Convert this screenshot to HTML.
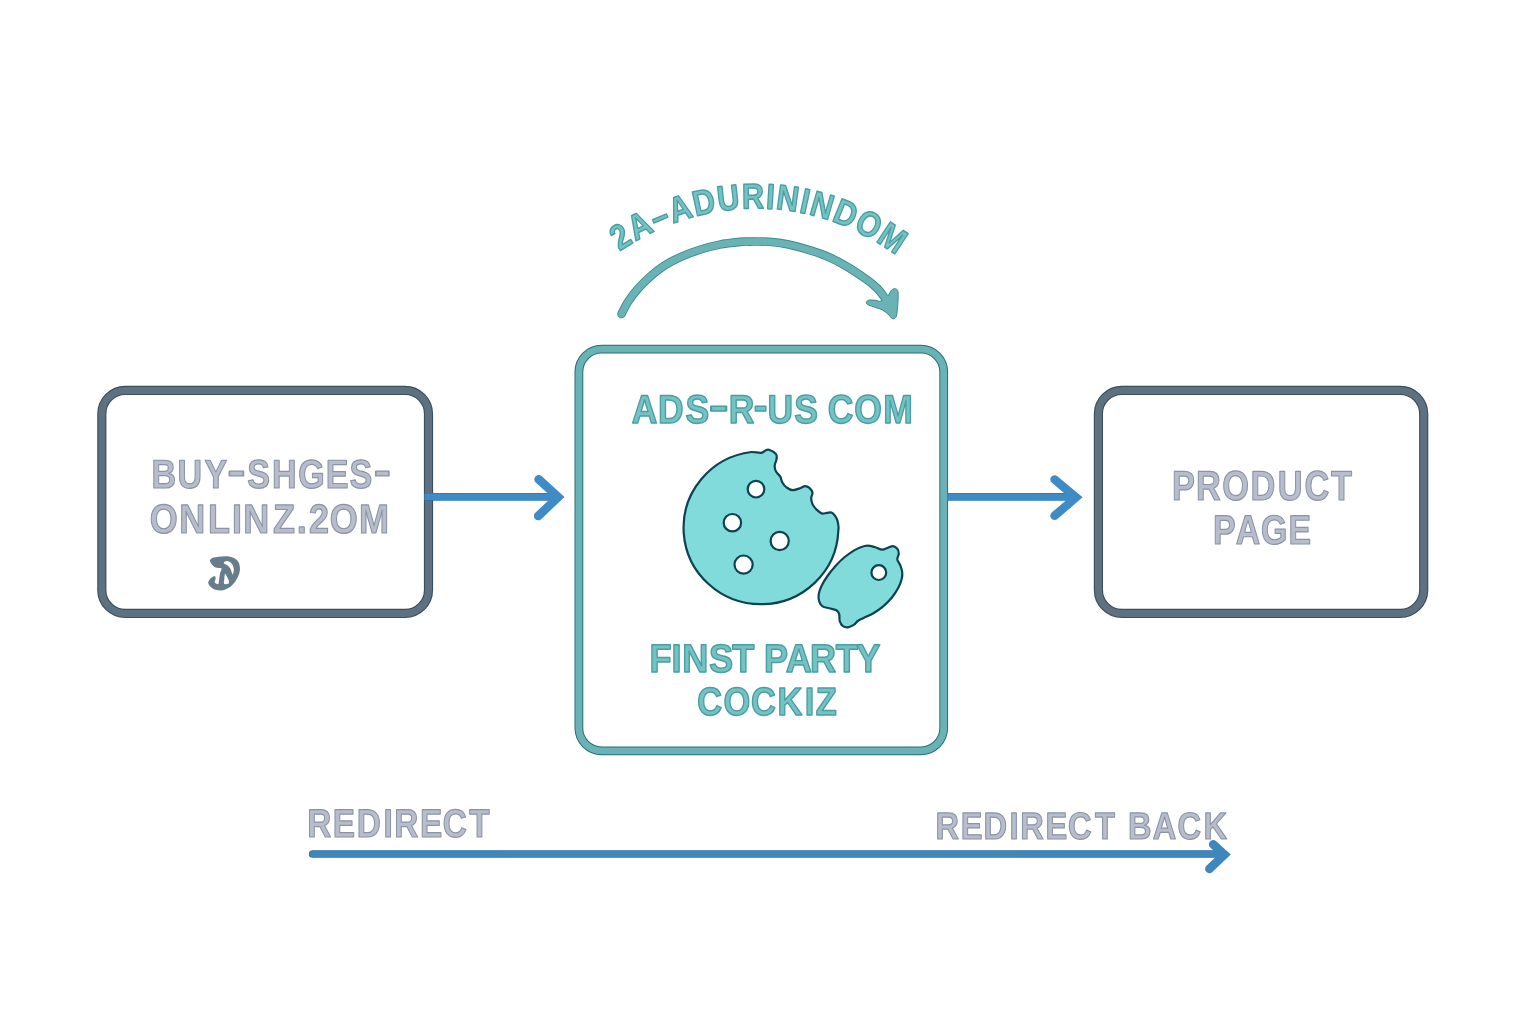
<!DOCTYPE html>
<html lang="en">
<head>
<meta charset="utf-8">
<title>First-party cookie redirect flow</title>
<style>
  html, body { margin: 0; padding: 0; background: #ffffff; }
  body { width: 1536px; height: 1024px; overflow: hidden; }
  svg { display: block; will-change: transform; }
  text {
    font-family: "Liberation Sans", sans-serif;
    font-weight: 700;
    stroke-linejoin: round;
    text-rendering: geometricPrecision;
  }
  .grey { fill: #b8bccb; stroke: #8994a8; stroke-width: 1.2px; }
  .teal { fill: #76c1c2; stroke: #48a0a6; stroke-width: 1.5px; }
</style>
</head>
<body>
<svg width="1536" height="1024" viewBox="0 0 1536 1024">
  <rect width="1536" height="1024" fill="#ffffff"/>

  <!-- left box -->
  <g id="box-left" fill="none">
    <rect x="101.8" y="390.4" width="326.7" height="223" rx="23.5" ry="23.5" stroke="#3a4e5e" stroke-width="9.2"/>
    <rect x="101.8" y="390.4" width="326.7" height="223" rx="23.5" ry="23.5" stroke="#5d7180" stroke-width="7"/>
  </g>

  <!-- right box -->
  <g id="box-right" fill="none">
    <rect x="1098.4" y="390.4" width="325.3" height="223" rx="23.5" ry="23.5" stroke="#3a4e5e" stroke-width="9.2"/>
    <rect x="1098.4" y="390.4" width="325.3" height="223" rx="23.5" ry="23.5" stroke="#5d7180" stroke-width="7"/>
  </g>

  <!-- middle box -->
  <g id="box-mid" fill="none">
    <rect x="578.9" y="349.2" width="364.8" height="401.6" rx="22.8" ry="22.8" stroke="#276f78" stroke-width="8.8"/>
    <rect x="578.9" y="349.2" width="364.8" height="401.6" rx="22.8" ry="22.8" stroke="#6ab2b3" stroke-width="6.8"/>
  </g>

  <!-- arrows between boxes -->
  <g id="arrows" fill="none" stroke-linecap="round" stroke-linejoin="miter">
    <path d="M424.6,496.9 H556" stroke="#2f74ad" stroke-width="7.8" stroke-linecap="butt"/>
    <path d="M424.6,496.9 H556" stroke="#3f8bc5" stroke-width="6.2" stroke-linecap="butt"/>
    <path d="M538.6,479.3 L558.2,497.1 L538.2,516" stroke="#3f8bc5" stroke-width="8.6"/>
    <path d="M947.4,496.9 H1074" stroke="#2f74ad" stroke-width="7.8" stroke-linecap="butt"/>
    <path d="M947.4,496.9 H1074" stroke="#3f8bc5" stroke-width="6.2" stroke-linecap="butt"/>
    <path d="M1054.6,479.5 L1076,497.4 L1054.6,515.8" stroke="#3f8bc5" stroke-width="8.6"/>
  </g>

  <!-- curved arrow -->
  <g id="curved-arrow" stroke-linecap="round" stroke-linejoin="round">
    <path d="M621.5,314.0 C622.6,311.9 625.5,305.5 628.3,301.3 C631.1,297.1 634.5,292.7 638.1,288.6 C641.7,284.5 645.4,280.7 649.8,276.9 C654.2,273.1 659.1,269.0 664.4,265.6 C669.7,262.2 675.5,259.3 681.5,256.6 C687.5,253.9 694.2,251.5 700.6,249.5 C707.0,247.5 713.0,245.9 719.6,244.6 C726.2,243.3 735.0,242.4 740.0,241.9 C745.0,241.4 744.6,241.6 749.5,241.6 C754.4,241.6 762.6,241.3 769.1,241.8 C775.6,242.3 782.3,243.2 788.6,244.5 C794.9,245.8 800.9,247.5 807.1,249.4 C813.3,251.3 819.4,253.2 825.7,255.8 C832.0,258.4 837.8,261.2 844.7,265.2 C851.6,269.2 861.4,275.8 866.9,279.7 C872.4,283.6 874.7,285.7 877.6,288.6 C880.5,291.6 882.8,295.1 884.5,297.5 C886.2,299.9 887.4,302.1 888.0,303.0" fill="none" stroke="#3b8a90" stroke-width="8.6"/>
    <path d="M888.5,295.2 C890.1,293.5 890.0,291.9 890.9,290.8 C891.8,289.7 893.0,288.9 894.0,288.7 C895.0,288.5 896.4,289.0 897.1,289.7 C897.8,290.4 898.0,290.9 898.1,292.8 C898.2,294.7 898.1,298.3 898.0,301.0 C897.9,303.7 897.7,306.7 897.4,309.2 C897.1,311.7 897.0,314.5 896.4,316.1 C895.8,317.7 894.9,318.4 894.0,318.7 C893.1,319.0 892.3,318.6 891.3,317.8 C890.3,317.0 889.4,315.3 887.9,314.0 C886.4,312.7 884.2,310.9 882.4,309.9 C880.6,308.9 878.8,308.6 876.9,307.9 C875.0,307.2 872.4,306.4 870.8,305.8 C869.2,305.2 868.1,304.9 867.4,304.4 C866.6,303.9 866.3,303.3 866.3,302.7 C866.3,302.1 866.8,301.1 867.4,300.7 C868.0,300.2 868.7,300.1 870.1,300.0 C871.5,299.9 873.8,300.1 875.6,300.3 C877.4,300.5 878.9,301.9 881.0,301.0 C883.1,300.1 886.9,296.9 888.5,295.2Z" fill="#6ab3b4" stroke="#3b8a90" stroke-width="1"/>
    <path d="M621.5,314.0 C622.6,311.9 625.5,305.5 628.3,301.3 C631.1,297.1 634.5,292.7 638.1,288.6 C641.7,284.5 645.4,280.7 649.8,276.9 C654.2,273.1 659.1,269.0 664.4,265.6 C669.7,262.2 675.5,259.3 681.5,256.6 C687.5,253.9 694.2,251.5 700.6,249.5 C707.0,247.5 713.0,245.9 719.6,244.6 C726.2,243.3 735.0,242.4 740.0,241.9 C745.0,241.4 744.6,241.6 749.5,241.6 C754.4,241.6 762.6,241.3 769.1,241.8 C775.6,242.3 782.3,243.2 788.6,244.5 C794.9,245.8 800.9,247.5 807.1,249.4 C813.3,251.3 819.4,253.2 825.7,255.8 C832.0,258.4 837.8,261.2 844.7,265.2 C851.6,269.2 861.4,275.8 866.9,279.7 C872.4,283.6 874.7,285.7 877.6,288.6 C880.5,291.6 882.8,295.1 884.5,297.5 C886.2,299.9 887.4,302.1 888.0,303.0" fill="none" stroke="#6ab3b4" stroke-width="6.8"/>
  </g>

  <!-- curved label -->
  <defs>
    <path id="arc" d="M618,252.5 C699.4,196.6 807.7,188.8 900,258"/>
  </defs>
  <text class="teal" font-size="35.4" letter-spacing="1.6"><textPath href="#arc" startOffset="2" textLength="297" lengthAdjust="spacingAndGlyphs">2A–ADURININDOM</textPath></text>

  <!-- text labels (per-glyph x positions keep real text aligned to the reference) -->
  <text class="grey" transform="translate(0,488.1) scale(0.844,1)" font-size="40.36" x="179.48 210.45 242.33 269.26 292.85 322.40 353.27 385.86 414.12 442.88" y="0">BUY<tspan textLength="21.74" lengthAdjust="spacingAndGlyphs" dy="-3.9">-</tspan><tspan dy="3.9">S</tspan>HGES<tspan textLength="20.34" lengthAdjust="spacingAndGlyphs" dy="-3.9">-</tspan></text>
  <text class="grey" transform="translate(0,532.8) scale(0.881,1)" font-size="40.88" x="169.93 203.41 236.21 263.45 276.23 310.03 336.79 350.83 374.42 407.43" y="0">ONLINZ.2OM</text>
  <text class="teal" transform="translate(0,423.15) scale(0.886,1)" font-size="40.07" x="712.99 742.71 773.58 800.00 822.53 850.82 866.31 896.55 923.28 934.19 964.18 997.02" y="0">ADS<tspan textLength="22.41" lengthAdjust="spacingAndGlyphs" dy="-3.9">-</tspan><tspan dy="3.9">R</tspan><tspan textLength="15.45" lengthAdjust="spacingAndGlyphs" dy="-3.9">-</tspan><tspan dy="3.9">U</tspan>S COM</text>
  <text class="teal" transform="translate(0,672.0) scale(0.914,1)" font-size="39.56" x="710.51 734.82 746.45 775.85 801.20 825.37 835.94 859.60 886.22 914.28 936.79" y="0">FINST PARTY</text>
  <text class="teal" transform="translate(0,715.3) scale(0.876,1)" font-size="39.27" x="795.88 825.84 857.36 887.66 918.57 931.31" y="0">COCKIZ</text>
  <text class="grey" transform="translate(0,499.8) scale(0.826,1)" font-size="41.61" x="1418.80 1447.99 1479.66 1513.82 1547.04 1579.42 1611.37" y="0">PRODUCT</text>
  <text class="grey" transform="translate(0,544.0) scale(0.823,1)" font-size="41.17" x="1473.75 1501.39 1532.23 1565.71" y="0">PAGE</text>
  <text class="grey" transform="translate(0,837.1) scale(0.84,1)" font-size="39.71" x="365.90 396.09 424.81 456.63 469.38 499.89 527.00 558.58" y="0">REDIRECT</text>
  <text class="grey" transform="translate(0,838.9) scale(0.859,1)" font-size="37.96" x="1088.96 1118.59 1145.08 1175.23 1187.68 1217.14 1243.25 1274.83 1298.02 1313.24 1342.08 1370.67 1401.03" y="0">REDIRECT BACK</text>

  <!-- small mark under the left label -->
  <path id="glyph" fill="#677d8c" fill-rule="evenodd" d="M210.3,559.7 C210.7,559.1 211.3,558.3 212.7,557.8 C214.1,557.3 216.6,557.0 218.6,556.8 C220.5,556.5 222.5,556.3 224.4,556.3 C226.4,556.3 228.5,556.4 230.3,556.8 C232.1,557.2 233.8,557.8 235.2,558.7 C236.5,559.6 237.8,560.9 238.6,562.2 C239.3,563.5 239.6,565.1 239.8,566.6 C240.0,568.0 240.0,569.5 239.8,570.9 C239.6,572.4 239.2,573.8 238.6,575.3 C238.0,576.9 237.0,578.8 236.1,580.2 C235.2,581.7 234.3,582.9 233.2,584.1 C232.1,585.4 230.6,586.7 229.3,587.6 C228.0,588.4 226.8,589.0 225.4,589.5 C224.0,590.0 222.5,590.4 221.0,590.5 C219.5,590.6 218.0,590.3 216.6,590.0 C215.2,589.7 213.8,589.2 212.7,588.5 C211.6,587.9 210.5,587.0 209.8,586.1 C209.0,585.2 208.5,584.1 208.3,583.2 C208.1,582.3 208.4,581.5 208.8,580.7 C209.2,579.9 210.0,579.0 210.7,578.3 C211.5,577.6 212.5,576.9 213.2,576.6 C213.8,576.2 214.2,576.2 214.6,576.3 C215.1,576.4 215.5,576.7 215.6,577.3 C215.7,577.9 215.5,578.9 215.4,579.7 C215.2,580.6 214.5,581.5 214.6,582.2 C214.8,582.8 215.5,583.3 216.1,583.6 C216.7,584.0 217.6,584.4 218.1,584.1 C218.5,583.9 218.6,583.2 218.8,582.2 C219.0,581.2 219.1,579.7 219.3,578.3 C219.5,576.8 219.7,574.9 220.0,573.4 C220.4,571.9 221.3,570.4 221.5,569.5 C221.6,568.6 221.5,568.3 221.0,568.0 C220.5,567.8 219.4,568.1 218.6,568.0 C217.7,567.9 216.5,567.9 215.6,567.5 C214.7,567.2 213.9,566.7 213.2,566.1 C212.5,565.4 211.8,564.4 211.2,563.6 C210.7,562.8 210.2,561.8 210.0,561.2 C209.8,560.5 209.8,560.3 210.3,559.7Z M224.4,561.7 C225.0,561.2 226.4,560.9 227.3,560.9 C228.3,561.0 229.4,561.5 230.3,562.2 C231.2,562.9 232.1,564.0 232.7,565.1 C233.3,566.1 233.5,567.4 233.7,568.5 C233.9,569.6 233.9,570.5 233.7,571.4 C233.5,572.4 233.0,574.2 232.7,574.4 C232.4,574.5 232.1,573.2 231.7,572.4 C231.4,571.6 231.2,570.5 230.8,569.5 C230.3,568.5 229.6,567.4 228.8,566.6 C228.0,565.7 226.7,565.1 225.9,564.6 C225.1,564.1 224.2,564.1 223.9,563.6 C223.7,563.1 223.8,562.1 224.4,561.7Z M225.4,573.9 C225.8,574.2 226.8,576.2 227.3,577.3 C227.9,578.4 228.6,579.7 228.8,580.7 C229.1,581.7 229.1,582.6 228.8,583.2 C228.5,583.7 227.6,584.0 226.9,584.1 C226.1,584.3 224.9,584.2 224.4,583.9 C223.9,583.6 223.9,583.1 223.9,582.2 C223.9,581.2 224.3,579.4 224.4,578.3 C224.5,577.1 224.5,576.1 224.7,575.3 C224.8,574.6 224.9,573.6 225.4,573.9Z"/>

  <!-- cookie -->
  <g id="cookie" fill="#80dbda" stroke="#0d4350" stroke-width="2.2" stroke-linejoin="round">
    <path d="M838.3,531 A77.4,76.4 0 1 1 751.4,452 C754.5,451.9 758.8,453.1 761.1,452.8 C763.5,452.6 764.2,451.0 765.5,450.5 C766.8,450.0 767.2,449.1 769.0,449.7 C770.8,450.3 774.8,452.5 776.0,454.1 C777.2,455.7 776.7,457.4 776.5,459.3 C776.3,461.2 774.8,463.4 774.7,465.5 C774.6,467.6 775.0,469.7 776.0,471.6 C777.0,473.5 779.4,475.1 780.4,476.9 C781.4,478.7 781.2,480.4 782.2,482.2 C783.2,484.0 784.9,486.2 786.6,487.5 C788.4,488.8 790.5,490.0 792.7,490.1 C794.9,490.2 797.8,489.0 799.8,488.3 C801.8,487.6 803.4,486.2 805.0,486.1 C806.6,486.0 808.1,486.8 809.4,487.9 C810.6,489.0 812.2,491.0 812.5,492.7 C812.8,494.4 811.2,496.1 811.2,498.0 C811.2,499.9 811.6,502.2 812.5,504.1 C813.4,506.0 814.9,507.8 816.4,509.4 C817.9,510.9 819.9,512.8 821.7,513.4 C823.5,514.0 825.4,513.0 827.0,512.9 C828.6,512.8 830.1,512.0 831.4,512.5 C832.7,513.0 833.9,514.2 834.9,515.6 C835.9,517.0 836.9,518.9 837.5,520.8 C838.1,522.7 838.4,525.3 838.5,527.0 C838.6,528.7 838.5,528.8 838.3,531.0Z"/>
    <path d="M867.5,545.7 C870.0,545.7 872.9,546.6 875.3,547.2 C877.8,547.9 880.1,549.6 882.2,549.7 C884.3,549.7 886.2,548.3 888.0,547.7 C889.8,547.1 891.4,546.1 892.9,546.2 C894.5,546.4 896.3,547.5 897.3,548.7 C898.3,549.9 898.8,551.8 898.8,553.6 C898.8,555.4 897.1,557.5 897.3,559.4 C897.6,561.4 899.4,563.2 900.3,565.3 C901.1,567.4 902.0,569.8 902.2,572.1 C902.5,574.4 902.4,576.4 901.7,579.0 C901.1,581.6 899.9,584.7 898.3,587.8 C896.7,590.8 894.5,594.4 891.9,597.5 C889.4,600.6 886.2,603.7 883.2,606.3 C880.1,608.9 876.6,611.2 873.4,613.2 C870.1,615.1 866.2,616.7 863.6,618.0 C861.0,619.3 859.4,619.8 857.8,621.0 C856.1,622.1 855.5,623.8 853.8,624.9 C852.2,625.9 849.9,627.2 848.0,627.3 C846.1,627.5 844.0,626.9 842.6,625.9 C841.2,624.8 840.3,622.9 839.7,621.0 C839.1,619.0 839.8,615.9 839.2,614.1 C838.6,612.3 837.9,611.2 836.3,610.2 C834.6,609.2 831.7,608.9 829.4,608.3 C827.1,607.6 824.3,607.5 822.6,606.3 C820.9,605.2 819.8,603.4 819.2,601.4 C818.5,599.5 818.3,597.2 818.7,594.6 C819.1,592.0 820.1,588.9 821.6,585.8 C823.1,582.7 825.2,579.3 827.5,576.0 C829.7,572.8 832.5,569.4 835.3,566.3 C838.1,563.2 841.0,560.1 844.1,557.5 C847.2,554.9 851.1,552.3 853.8,550.6 C856.6,548.9 858.4,548.0 860.7,547.2 C863.0,546.4 865.1,545.7 867.5,545.7Z"/>
    <g fill="#ffffff">
      <circle cx="756.0" cy="489.2" r="8.3"/>
      <circle cx="732.4" cy="522.7" r="8.7"/>
      <circle cx="779.7" cy="541.0" r="9.1"/>
      <circle cx="743.6" cy="564.6" r="9.1"/>
      <circle cx="878.8" cy="572.6" r="7.4"/>
    </g>
  </g>

  <!-- bottom flow -->
  <g id="flow-arrow" fill="none" stroke-linecap="round" stroke-linejoin="miter">
    <path d="M312.7,854 H1222" stroke="#2d6ea6" stroke-width="7.7"/>
    <path d="M312.7,854 H1222" stroke="#3f86bd" stroke-width="6.1"/>
    <path d="M1213.2,844.4 L1224.4,854.6 L1209.4,868.8" stroke="#3f86bd" stroke-width="8.7"/>
  </g>
</svg>
</body>
</html>
